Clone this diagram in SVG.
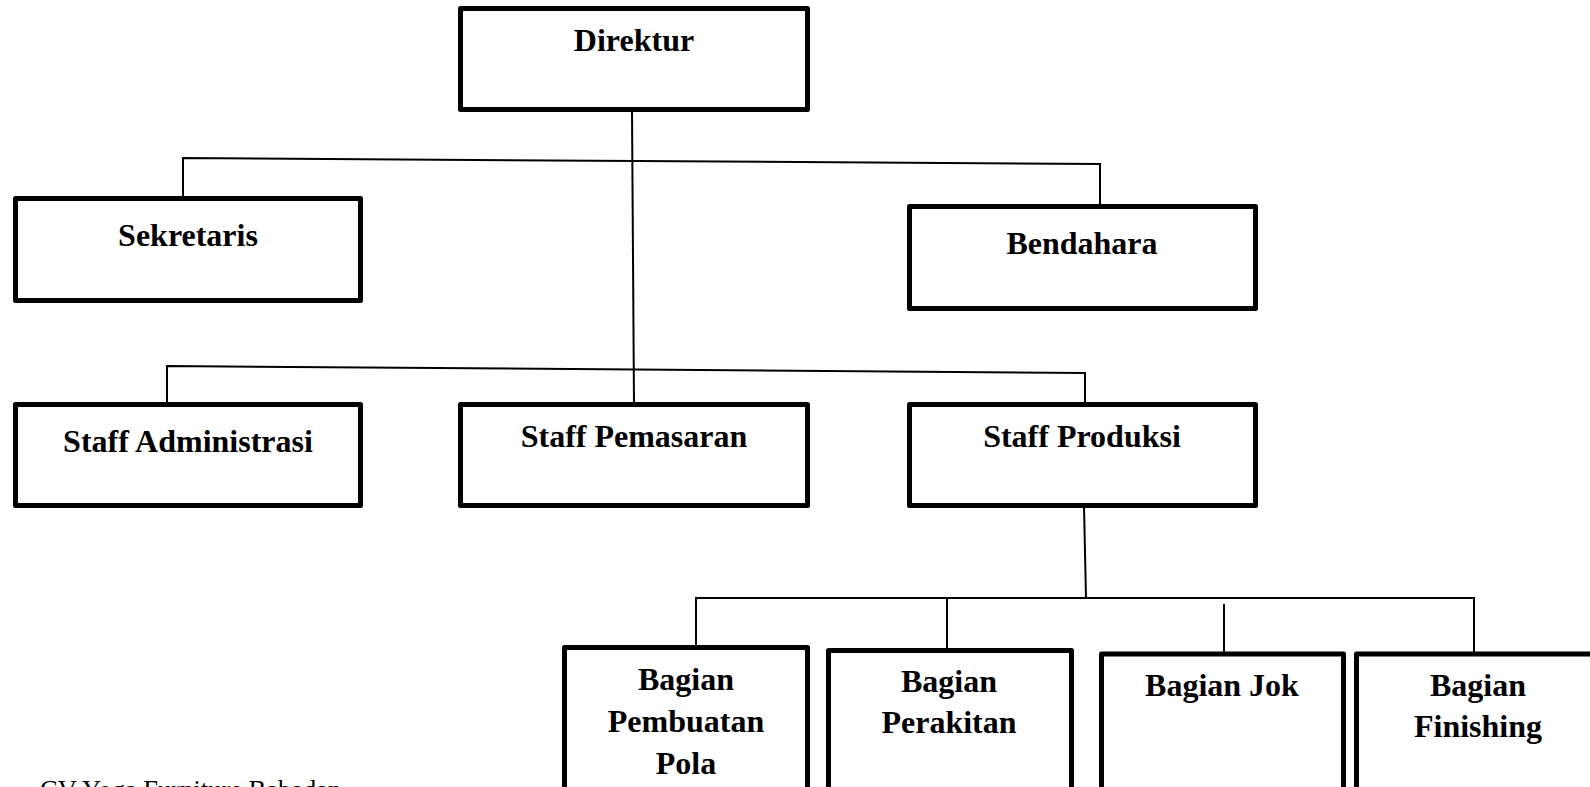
<svg xmlns="http://www.w3.org/2000/svg" width="1590" height="787" viewBox="0 0 1590 787">
<style>
.box{fill:#fff;stroke:#000;stroke-width:5;stroke-linejoin:round}
.lbl{font-family:"Liberation Serif","Times New Roman",serif;font-weight:bold;font-size:32px;fill:#000;text-anchor:middle}
.con{stroke:#000;stroke-width:2;fill:none}
.cap{font-family:"Liberation Serif","Times New Roman",serif;font-size:26.5px;fill:#000}
</style>
<rect width="1590" height="787" fill="#fff"/>
<g id="connectors">
<line class="con" x1="632" y1="110" x2="634" y2="404"/>
<polyline class="con" points="183,198 183,158 1100,164 1100,206"/>
<polyline class="con" points="167,404 167,366 1085,373 1085,404"/>
<line class="con" x1="1084" y1="506" x2="1086" y2="598"/>
<polyline class="con" points="696,647 696,598 1474,598 1474,654"/>
<line class="con" x1="947" y1="598" x2="947" y2="650"/>
<line class="con" x1="1224" y1="604" x2="1224" y2="654"/>
</g>
<g id="direktur">
<rect class="box" x="460.5" y="8.5" width="347" height="101"/>
<text class="lbl" x="634" y="51">Direktur</text>
</g>
<g id="sekretaris">
<rect class="box" x="15.5" y="198.5" width="345" height="102"/>
<text class="lbl" x="188" y="246">Sekretaris</text>
</g>
<g id="bendahara">
<rect class="box" x="909.5" y="206.5" width="346" height="102"/>
<text class="lbl" x="1082" y="254">Bendahara</text>
</g>
<g id="staff-administrasi">
<rect class="box" x="15.5" y="404.5" width="345" height="101"/>
<text class="lbl" x="188" y="452">Staff Administrasi</text>
</g>
<g id="staff-pemasaran">
<rect class="box" x="460.5" y="404.5" width="347" height="101"/>
<text class="lbl" x="634" y="447">Staff Pemasaran</text>
</g>
<g id="staff-produksi">
<rect class="box" x="909.5" y="404.5" width="346" height="101"/>
<text class="lbl" x="1082" y="447">Staff Produksi</text>
</g>
<g id="bagian-pembuatan-pola">
<rect class="box" x="564.5" y="647.5" width="243" height="160"/>
<text class="lbl" x="686" y="690">Bagian</text>
<text class="lbl" x="686" y="732">Pembuatan</text>
<text class="lbl" x="686" y="774">Pola</text>
</g>
<g id="bagian-perakitan">
<rect class="box" x="828.5" y="650.5" width="243" height="160"/>
<text class="lbl" x="949" y="692">Bagian</text>
<text class="lbl" x="949" y="733">Perakitan</text>
</g>
<g id="bagian-jok">
<rect class="box" x="1101.5" y="654" width="242" height="160"/>
<text class="lbl" x="1222" y="696">Bagian Jok</text>
</g>
<g id="bagian-finishing">
<rect class="box" x="1356.5" y="654" width="243" height="160"/>
<text class="lbl" x="1478" y="696">Bagian</text>
<text class="lbl" x="1478" y="737">Finishing</text>
</g>
<text class="cap" x="40" y="799">CV Yoga Furniture Babadan</text>
</svg>
